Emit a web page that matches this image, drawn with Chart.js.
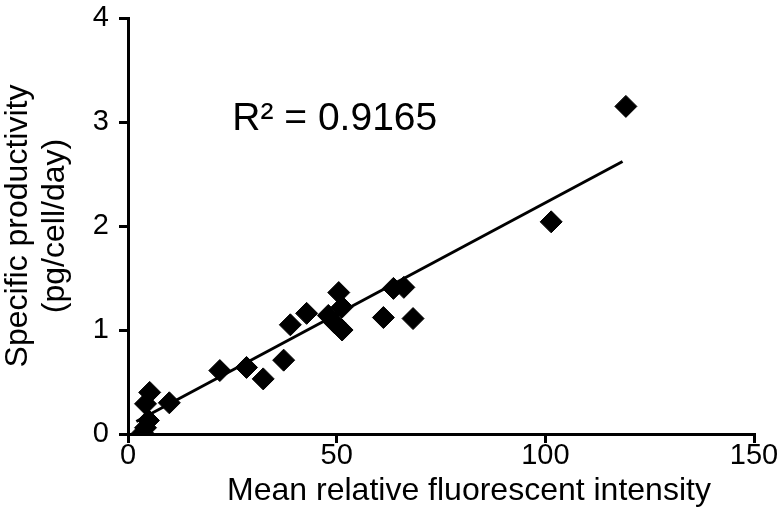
<!DOCTYPE html>
<html>
<head>
<meta charset="utf-8">
<script src="https://cdn.jsdelivr.net/npm/chart.js@4"></script>
<style>
  html, body { margin: 0; padding: 0; background: #fff; }
  #wrap { width: 781px; height: 528px; }
</style>
</head>
<body>
<div id="wrap"><canvas id="chart" width="781" height="528"></canvas></div>
<script>
// data
const fluorescence = [3.5, 4.2, 4.9, 4.2, 5.2, 9.9, 22.0, 28.4, 32.4, 37.3, 38.9, 42.8,
                      48.0, 49.5, 51.3, 51.3, 50.5, 61.2, 63.6, 66.1, 68.3, 101.4, 119.3];
const productivity = [0.01, 0.06, 0.13, 0.29, 0.40, 0.30, 0.61, 0.64, 0.53, 0.71, 1.05, 1.16,
                      1.14, 1.07, 1.00, 1.22, 1.36, 1.12, 1.40, 1.41, 1.11, 2.04, 3.15];
const fitX = [2.0, 118.5];
const fitY = [0.12, 2.62];
const xTicks = [0, 50, 100, 150];
const yTicks = [0, 1, 2, 3, 4];
const xTitle = 'Mean relative fluorescent intensity';
const yTitle = ['Specific productivity', '(pg/cell/day)'];
const rSquared = 'R\u00B2 = 0.9165';

const FONT = "'Liberation Sans', Arial, sans-serif";

// R² label and x title (title sits a bit right of the axis centre in the original)
const extraText = {
    id: 'extraText',
    afterDatasetsDraw(chart) {
        const { ctx, scales, chartArea } = chart;
        ctx.save();
        ctx.fillStyle = '#000';
        ctx.font = `39px ${FONT}`;
        ctx.textBaseline = 'alphabetic';
        ctx.textAlign = 'left';
        ctx.fillText(rSquared, scales.x.getPixelForValue(25), scales.y.getPixelForValue(2.92));

        ctx.font = `32px ${FONT}`;
        ctx.textAlign = 'center';
        ctx.textBaseline = 'middle';
        ctx.fillText(xTitle, (chartArea.left + chartArea.right) / 2 + 28, chartArea.bottom + 57);
        ctx.restore();
    }
};

const axisStyle = {
    border: { display: true, color: '#000', width: 3 },
    grid: { display: true, drawOnChartArea: false, drawTicks: true, tickLength: 9, color: '#000', lineWidth: 3 }
};

new Chart(document.getElementById('chart'), {
    type: 'scatter',
    data: {
        datasets: [{
            label: 'cells',
            data: fluorescence.map((x, i) => ({ x, y: productivity[i] })),
            pointStyle: 'rectRot',
            pointRadius: 11,
            pointHoverRadius: 11,
            backgroundColor: '#000',
            borderColor: '#000',
            borderWidth: 1
        }, {
            label: 'fit',
            type: 'line',
            data: fitX.map((x, i) => ({ x, y: fitY[i] })),
            borderColor: '#000',
            borderWidth: 3,
            pointRadius: 0,
            fill: false
        }]
    },
    options: {
        responsive: false,
        animation: false,
        devicePixelRatio: 1,
        layout: { padding: { top: 0, right: 27, bottom: 0, left: 0 } },
        plugins: { legend: { display: false }, tooltip: { enabled: false } },
        scales: {
            x: {
                type: 'linear',
                min: 0, max: 150,
                ...axisStyle,
                afterBuildTicks: s => { s.ticks = xTicks.map(v => ({ value: v })); },
                afterFit: s => { s.height = 94; },
                ticks: { color: '#000', font: { family: FONT, size: 29 }, padding: -4 },
                title: { display: false }
            },
            y: {
                type: 'linear',
                min: 0, max: 4,
                ...axisStyle,
                afterBuildTicks: s => { s.ticks = yTicks.map(v => ({ value: v })); },
                afterFit: s => { s.width = 128; s.paddingTop = 18; s.paddingBottom = 0; },
                ticks: { color: '#000', font: { family: FONT, size: 29 }, padding: 10 },
                title: { display: true, text: yTitle, color: '#000',
                         font: { family: FONT, size: 32, lineHeight: 1.15 }, padding: 0 }
            }
        }
    },
    plugins: [extraText]
});
</script>
</body>
</html>
